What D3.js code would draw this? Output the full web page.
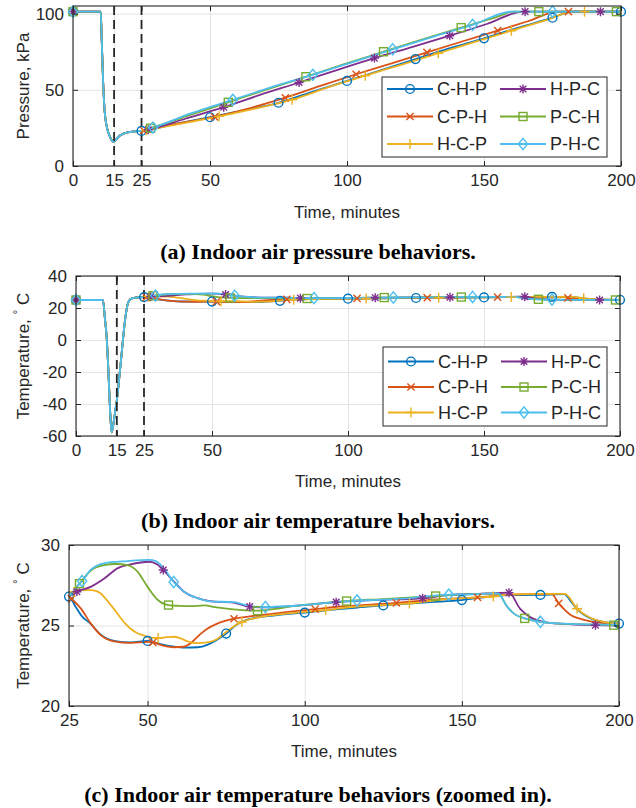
<!DOCTYPE html>
<html><head><meta charset="utf-8">
<script src="https://cdn.jsdelivr.net/npm/d3@7"></script>
<style>
body{margin:0;background:#fff}
svg{display:block}
text{font-family:"Liberation Sans",Arial,Helvetica,sans-serif;fill:#262626}
.title{font-family:"Liberation Serif","Times New Roman",serif;font-weight:bold;fill:#000}
</style>
</head><body>
<svg id="chart" width="636" height="808"></svg>
<script>
// ---------------- DATA ----------------
const seriesNames = ["C-H-P","C-P-H","H-C-P","H-P-C","P-C-H","P-H-C"];
const seriesColors = ["#0072BD","#D95319","#EDB120","#7E2F8E","#77AC30","#4DBEEE"];
const seriesMarkers = ["circle","x","plus","star","square","diamond"];

// marker times (minutes) per series
const markCHP = [0,25,50,75,100,125,150,175,200];
const markCPH = [0,25.83,51.67,77.5,103.33,129.17,155,180.83];
const markHCP = [0,26.67,53.33,80,106.67,133.33,160,186.67];
const markHPC = [0,27.5,55,82.5,110,137.5,165,192.5];
const markPCH = [0,28.33,56.67,85,113.33,141.67,170,198.33];
const markPHC = [0,29.17,58.33,87.5,116.67,145.83,175];

// pressure (kPa), common part before t = 25 min
const pressStart = [[0,101.3],[5,101.3],[10.1,101.3],[10.5,82],[11,55],[11.6,35],[12.3,26],[13.2,20.5],[14,17.3],[14.7,15.9],[15.5,16.8],[16.5,19],[18,20.9],[20,22],[22.5,22.7]];
const pressCHP = [[25,23],[37,27.5],[50,32],[62,36.5],[75,41.5],[87,48.5],[100,55.8],[112,62.6],[125,70.2],[137,77],[150,83.8],[162,90.5],[175,97.3],[182.3,101.3],[200,101.3]];
const pressCPH = [[25,23],[25.83,23.3],[38,27.8],[51.67,32.3],[65,38.2],[77.5,44.8],[90,52.4],[103.33,60.2],[116,67.2],[129.17,74.6],[142,81.7],[155,88.8],[166,95],[177,101.3],[180.83,101.3],[200,101.3]];
const pressHCP = [[25,23],[26.67,23.5],[40,28],[53.33,32.6],[66,37.5],[80,43.5],[93,51.6],[106.67,59.3],[120,66.6],[133.33,74],[146.67,81.4],[160,88.8],[173,95.9],[182.5,101.3],[186.67,101.3],[200,101.3]];
const pressHPC = [[25,23],[27.5,23.8],[41,31],[55,38.6],[68,46.5],[82.5,54.8],[96,62.8],[110,70.8],[124,78.2],[137.5,85.5],[151,93.2],[164.3,101.3],[165,101.3],[192.5,101.3],[200,101.3]];
const pressPCH = [[25,23],[28.33,24.8],[42,33],[56.67,41.8],[70,49.8],[85,58.6],[99,66.8],[113.33,75],[127,82.8],[141.67,90.8],[155,98],[160.5,101.3],[170,101.3],[198.33,101.3],[200,101.3]];
const pressPHC = [[25,23],[29.17,25.2],[43,34.5],[58.33,43.4],[72,51.5],[87.5,59.8],[102,68.2],[116.67,76.6],[131,84.6],[145.83,92.6],[160.2,101.3],[175,101.3],[200,101.3]];

// temperature (deg C), common part before t = 25 min
const tempStart = [[0,25],[5,25],[9.9,25],[10.6,14],[11.3,1],[11.9,-19],[12.5,-43],[13.1,-57.7],[13.7,-53],[14.3,-46],[15,-38],[16,-22],[16.8,-8],[18,12],[19.2,23.5],[20.5,26.0],[22.5,26.6]];
const tempCHP = [[25,26.8],[27,26.2],[29,25.6],[31.9,25.1],[35,24.45],[39.3,24.05],[44.6,23.95],[50,24.04],[54,23.85],[58,23.7],[62,23.62],[66,23.65],[69,23.8],[72,24.1],[75,24.5],[78.3,25.05],[81.5,25.35],[85,25.5],[90,25.62],[95,25.72],[100,25.8],[110,26.0],[117,26.12],[125,26.25],[133,26.36],[140,26.45],[150,26.58],[157,26.75],[163,26.88],[175,26.9],[182.6,26.95],[184.5,26.55],[186.67,26.02],[190.8,25.46],[195,25.22],[200,25.12]];
const tempCPH = [[25,26.8],[25.83,26.65],[28.8,26.05],[31.9,25.13],[35,24.42],[39.3,24.02],[44.6,23.92],[50.5,23.98],[51.67,23.95],[55,23.75],[58.4,23.65],[61.5,23.68],[64,23.95],[66.7,24.45],[69,24.8],[72,25.1],[77.5,25.42],[82,25.55],[87.9,25.69],[94,25.83],[99.5,25.94],[103.33,26.02],[111.2,26.18],[121.8,26.31],[129.17,26.4],[132.4,26.46],[143,26.63],[155,26.75],[160,26.83],[165,26.92],[172,26.95],[178.6,26.95],[180.83,26.37],[184.4,25.69],[188.6,25.37],[192.9,25.2],[200,25.1]];
const tempHCP = [[25,26.8],[26.67,27.1],[28,27.2],[31.9,27.2],[33.5,27.15],[35,27.0],[36.5,26.7],[38.3,26.27],[40,25.85],[41.5,25.45],[43,25.1],[44.6,24.8],[46.5,24.55],[48.9,24.37],[51,24.25],[53.33,24.22],[56,24.28],[58.4,24.3],[60.5,24.2],[62.7,24.02],[66,23.9],[69,23.95],[72,24.15],[75,24.6],[78,25.02],[80,25.22],[84,25.45],[87.9,25.6],[95,25.75],[100,25.85],[106.67,25.96],[115,26.15],[125,26.27],[133.33,26.37],[143,26.6],[153.6,26.73],[160,26.8],[165,26.92],[175,26.97],[182.8,26.97],[186.67,26.04],[190.8,25.48],[195,25.23],[200,25.1]];
const tempHPC = [[25,26.8],[27.5,27.1],[31.9,27.4],[36.1,27.9],[40.4,28.55],[44.6,28.8],[50.5,28.96],[53,28.8],[55,28.45],[58.4,27.72],[61.6,27.1],[65.9,26.7],[69.9,26.52],[77.3,26.42],[82.5,26.17],[87.9,26.12],[98.5,26.25],[110,26.45],[121.8,26.58],[137.5,26.69],[146,26.9],[155,26.97],[160,27.0],[165,27.04],[168.5,26.05],[171.7,25.52],[175.9,25.23],[182.3,25.1],[192.5,25.02],[200,25.0]];
const tempPCH = [[25,26.8],[28.33,27.6],[31.9,28.4],[36.1,28.75],[40,28.82],[43.6,28.75],[46.8,28.35],[50,27.4],[53.2,26.6],[56.67,26.27],[60,26.22],[63.8,26.2],[68,26.25],[72,26.12],[77.3,26.0],[85,25.92],[90,26.02],[96.4,26.2],[105,26.38],[113.33,26.52],[125,26.64],[141.67,26.83],[150,26.92],[158,26.98],[161.6,26.98],[164.3,26.2],[166.9,25.69],[170,25.44],[175,25.23],[184,25.1],[198.33,25.02],[200,25.0]];
const tempPHC = [[25,26.8],[27,27.3],[29.17,27.76],[31.9,28.45],[36.1,28.86],[43.6,29.0],[50.5,29.07],[52.6,29.0],[55.2,28.55],[58.33,27.7],[61.6,27.1],[65.9,26.7],[69.9,26.5],[77.3,26.45],[82.6,26.2],[87.5,26.15],[98.5,26.25],[111.2,26.48],[116.67,26.55],[121.8,26.58],[132.4,26.69],[145.83,26.92],[153.6,26.94],[160,27.0],[161.6,26.98],[164.3,26.2],[166.9,25.69],[170.1,25.44],[175,25.23],[184.4,25.1],[200,25.05]];

// tick labels
const xTicksAB = [0,15,25,50,100,150,200];
const xTicksC = [25,50,100,150,200];
const yTicksA = [0,50,100];
const yTicksB = [-60,-40,-20,0,20,40];
const yTicksC = [20,25,30];
const phaseLines = [15,25];

// ---------------- BUILD ----------------
const markTimes = [markCHP,markCPH,markHCP,markHPC,markPCH,markPHC];
const pressure = [pressCHP,pressCPH,pressHCP,pressHPC,pressPCH,pressPHC].map(s=>pressStart.concat(s));
const temperature = [tempCHP,tempCPH,tempHCP,tempHPC,tempPCH,tempPHC].map(s=>tempStart.concat(s));

const svg = d3.select("#chart");
const defs = svg.append("defs");
const AX = "#262626";
let clipCount = 0;

function drawMarker(g, cx, cy, type, color){
  const m = g.append("g").attr("transform",`translate(${cx},${cy})`)
    .attr("fill","none").attr("stroke",color).attr("stroke-width",1.4);
  if(type==="circle") m.append("circle").attr("r",4.4);
  else if(type==="square") m.append("rect").attr("x",-4).attr("y",-4).attr("width",8).attr("height",8);
  else if(type==="diamond") m.append("path").attr("d","M0,-5.6L4.6,0L0,5.6L-4.6,0Z");
  else if(type==="x") m.append("path").attr("d","M-3.6,-3.6L3.6,3.6M-3.6,3.6L3.6,-3.6");
  else if(type==="plus") m.append("path").attr("d","M-5,0L5,0M0,-5L0,5");
  else if(type==="star") m.append("path").attr("d","M-4.5,0L4.5,0M0,-4.5L0,4.5M-3.3,-3.3L3.3,3.3M-3.3,3.3L3.3,-3.3");
}

function drawPanel(p){
  const x = d3.scaleLinear().domain(p.xDomain).range([p.left,p.right]);
  const y = d3.scaleLinear().domain(p.yDomain).range([p.bottom,p.top]);
  const w = p.right-p.left, h = p.bottom-p.top;
  const g = svg.append("g");

  // grid
  g.append("g").attr("transform",`translate(0,${p.bottom})`)
    .call(d3.axisBottom(x).tickValues(p.xTicks).tickSize(-h).tickFormat(""))
    .call(s=>{s.select(".domain").remove();s.selectAll("line").attr("stroke","#e3e3e3");});
  g.append("g").attr("transform",`translate(${p.left},0)`)
    .call(d3.axisLeft(y).tickValues(p.yTicks).tickSize(-w).tickFormat(""))
    .call(s=>{s.select(".domain").remove();s.selectAll("line").attr("stroke","#e3e3e3");});

  // series
  const id = "clip"+(clipCount++);
  defs.append("clipPath").attr("id",id).append("rect")
    .attr("x",p.left).attr("y",p.top).attr("width",w).attr("height",h);
  const line = d3.line().x(d=>x(d[0])).y(d=>y(d[1])).curve(d3.curveMonotoneX);
  const lg = g.append("g").attr("clip-path",`url(#${id})`);
  p.series.forEach((s,i)=>{
    lg.append("path").attr("d",line(s)).attr("fill","none")
      .attr("stroke",seriesColors[i]).attr("stroke-width",1.8).attr("stroke-linejoin","round");
  });

  // phase lines
  (p.dashed||[]).forEach(t=>{
    g.append("line").attr("x1",x(t)).attr("x2",x(t)).attr("y1",p.top).attr("y2",p.bottom)
      .attr("stroke","#262626").attr("stroke-width",1.8).attr("stroke-dasharray","9,5");
  });

  // markers
  p.series.forEach((s,i)=>{
    const mt = markTimes[i];
    s.filter(d=>d[0]>=p.xDomain[0]-1e-6 && mt.some(m=>Math.abs(m-d[0])<1e-6))
     .forEach(d=>drawMarker(g,x(d[0]),y(d[1]),seriesMarkers[i],seriesColors[i]));
  });

  // axes with inward ticks
  const fmt = d=>String(d);
  const styleAxis = s=>{s.select(".domain").remove();s.selectAll("line").attr("stroke",AX);
    s.selectAll("text").attr("fill",AX).style("font-size","17px").style("font-family","'Liberation Sans',Arial,sans-serif");};
  g.append("g").attr("transform",`translate(0,${p.bottom})`)
    .call(d3.axisBottom(x).tickValues(p.xTicks).tickSize(-5).tickPadding(p.xPad).tickFormat(fmt)).call(styleAxis);
  g.append("g").attr("transform",`translate(0,${p.top})`)
    .call(d3.axisTop(x).tickValues(p.xTicks).tickSize(-5).tickFormat("")).call(styleAxis);
  g.append("g").attr("transform",`translate(${p.left},0)`)
    .call(d3.axisLeft(y).tickValues(p.yTicks).tickSize(-5).tickPadding(p.yPad).tickFormat(fmt)).call(styleAxis);
  g.append("g").attr("transform",`translate(${p.right},0)`)
    .call(d3.axisRight(y).tickValues(p.yTicks).tickSize(-5).tickFormat("")).call(styleAxis);
  g.append("rect").attr("x",p.left).attr("y",p.top).attr("width",w).attr("height",h)
    .attr("fill","none").attr("stroke",AX).attr("stroke-width",1.1);

  // axis labels
  g.append("text").attr("x",(p.left+p.right)/2).attr("y",p.xLabelY).attr("text-anchor","middle")
    .style("font-size","17px").text("Time, minutes");
  const yl = g.append("text").attr("transform",`translate(${p.yLabelX},${(p.top+p.bottom)/2}) rotate(-90)`)
    .attr("text-anchor","middle").style("font-size","17px");
  if(p.yLabel==="temp"){
    yl.append("tspan").text("Temperature, ");
    yl.append("tspan").attr("dy",-7).style("font-size","12px").text("\u00B0");
    yl.append("tspan").attr("dy",7).text(" C");
  } else yl.text(p.yLabel);

  // title
  svg.append("text").attr("class","title").attr("x",p.titleX).attr("y",p.titleY)
    .attr("text-anchor","middle").style("font-size","22px").text(p.title);

  // legend
  if(p.legend){
    const L = p.legend;
    const lgG = g.append("g");
    lgG.append("rect").attr("x",L.x).attr("y",L.y).attr("width",L.w).attr("height",L.h)
      .attr("fill","#fff").attr("stroke",AX).attr("stroke-width",1);
    seriesNames.forEach((name,i)=>{
      const col = Math.floor(i/3), row = i%3;
      const lx = L.x + 5 + col*113, ly = L.y + L.row0 + row*L.rowGap;
      lgG.append("line").attr("x1",lx).attr("x2",lx+46).attr("y1",ly).attr("y2",ly)
        .attr("stroke",seriesColors[i]).attr("stroke-width",1.8);
      drawMarker(lgG,lx+23,ly,seriesMarkers[i],seriesColors[i]);
      lgG.append("text").attr("x",lx+50).attr("y",ly).attr("dy","0.35em")
        .style("font-size","18px").attr("fill","#000").text(name);
    });
  }
}

drawPanel({left:73,right:621,top:6,bottom:166,xDomain:[0,200],yDomain:[0,105],
  xTicks:xTicksAB,yTicks:yTicksA,series:pressure,dashed:phaseLines,xPad:8,yPad:9,
  xLabelY:218,yLabelX:29,yLabel:"Pressure, kPa",title:"(a) Indoor air pressure behaviors.",titleX:318,titleY:259,
  legend:{x:382,y:77,w:225,h:80,row0:12,rowGap:27.5}});

drawPanel({left:76,right:620,top:276,bottom:436,xDomain:[0,200],yDomain:[-60,40],
  xTicks:xTicksAB,yTicks:yTicksB,series:temperature,dashed:phaseLines,xPad:8,yPad:9,
  xLabelY:487,yLabelX:29,yLabel:"temp",title:"(b) Indoor air temperature behaviors.",titleX:318,titleY:528,
  legend:{x:383,y:347,w:224,h:79,row0:14.5,rowGap:25.5}});

drawPanel({left:69,right:619,top:545,bottom:706,xDomain:[25,200],yDomain:[20,30],
  xTicks:xTicksC,yTicks:yTicksC,series:temperature,dashed:[],xPad:8,yPad:9,
  xLabelY:757,yLabelX:29,yLabel:"temp",title:"(c) Indoor air temperature behaviors (zoomed in).",titleX:318,titleY:802,
  legend:null});
</script>
</body></html>
